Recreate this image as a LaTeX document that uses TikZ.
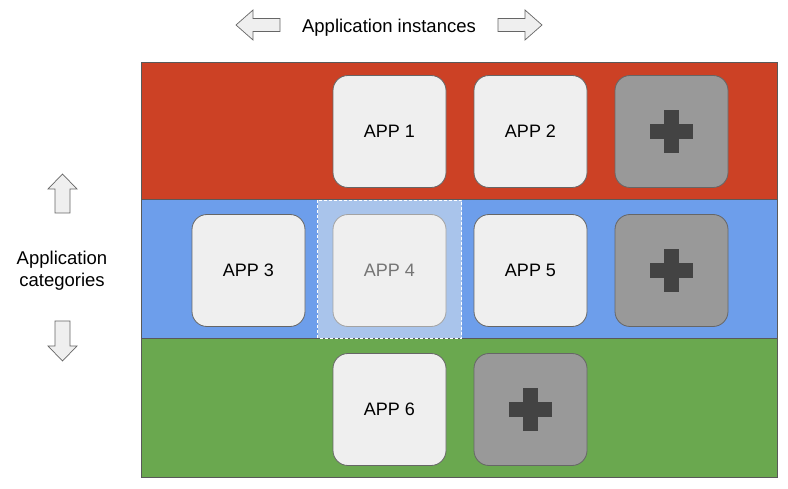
\documentclass[tikz,border=0pt]{standalone}
\usepackage{fontspec}
\setmainfont{Liberation Sans}
\definecolor{bandred}{HTML}{CC4125}
\definecolor{bandblue}{HTML}{6D9EEB}
\definecolor{bandgreen}{HTML}{6AA84F}
\definecolor{boxfill}{HTML}{EFEFEF}
\definecolor{boxline}{HTML}{666666}
\definecolor{plusfill}{HTML}{999999}
\definecolor{crossfill}{HTML}{434343}
\definecolor{framegrey}{HTML}{595959}
\definecolor{hilite}{HTML}{A9C4EB}
\begin{document}
\begin{tikzpicture}[x=1pt,y=-1pt,
  band/.style={draw=framegrey,line width=1pt},
  app/.style={draw=boxline,fill=boxfill,rounded corners=15pt,line width=0.8pt,
    minimum width=113pt,minimum height=112pt,inner sep=0pt,
    font=\fontsize{18}{20}\selectfont},
  plusbox/.style={draw=boxline,fill=plusfill,rounded corners=15pt,line width=0.8pt,
    minimum width=113pt,minimum height=112pt,inner sep=0pt,
    path picture={
      \fill[crossfill,sharp corners] ([xshift=-21.5pt,yshift=-7.5pt]path picture bounding box.center) rectangle ([xshift=21.5pt,yshift=7.5pt]path picture bounding box.center);
      \fill[crossfill,sharp corners] ([xshift=-7.5pt,yshift=-21.5pt]path picture bounding box.center) rectangle ([xshift=7.5pt,yshift=21.5pt]path picture bounding box.center);
    }},
  garrow/.style={draw=boxline,fill=boxfill,line width=0.7pt,line join=miter},
  lbl/.style={font=\fontsize{18.5}{22}\selectfont,align=center,inner sep=0pt}
]
\useasboundingbox (0,0) rectangle (788,489);
\fill[white] (0,0) rectangle (788,489);
% bands
\draw[band,fill=bandred] (141,63) rectangle (777,200);
\draw[band,fill=bandblue] (141,200) rectangle (777,339);
\draw[band,fill=bandgreen] (141,339) rectangle (777,477);
% highlight behind APP 4
\fill[hilite] (317.5,200.5) rectangle (461.5,338.5);
\draw[white,line width=0.8pt,dash pattern=on 3pt off 2pt] (317.5,200.5) rectangle (461.5,338.5);
% row 1
\node[app] (a1) at (389.5,131.5) {APP 1};
\node[app] (a2) at (530.5,131.5) {APP 2};
\node[plusbox] (p1) at (671.5,131.5) {};
% row 2
\node[app] (a3) at (248.5,270.5) {APP 3};
\node[app,draw=boxline!60,text=boxline!90] (a4) at (389.5,270.5) {APP 4};
\node[app] (a5) at (530.5,270.5) {APP 5};
\node[plusbox] (p2) at (671.5,270.5) {};
% row 3
\node[app] (a6) at (389.5,409.5) {APP 6};
\node[plusbox] (p3) at (530.5,409.5) {};
% labels
\node[lbl] (inst) at (389,28) {Application instances};
\node[lbl] (cats) at (62,271) {Application\\categories};
% arrows
\draw[garrow] (236,25) -- (253,10) -- (253,18.5) -- (280,18.5) -- (280,31.5) -- (253,31.5) -- (253,40) -- cycle;
\draw[garrow] (542,25) -- (525,10) -- (525,18.5) -- (498,18.5) -- (498,31.5) -- (525,31.5) -- (525,40) -- cycle;
\draw[garrow] (62.5,174) -- (77,189) -- (70,189) -- (70,213) -- (55,213) -- (55,189) -- (48,189) -- cycle;
\draw[garrow] (62.5,361) -- (77,346) -- (70,346) -- (70,321) -- (55,321) -- (55,346) -- (48,346) -- cycle;
\end{tikzpicture}
\end{document}
